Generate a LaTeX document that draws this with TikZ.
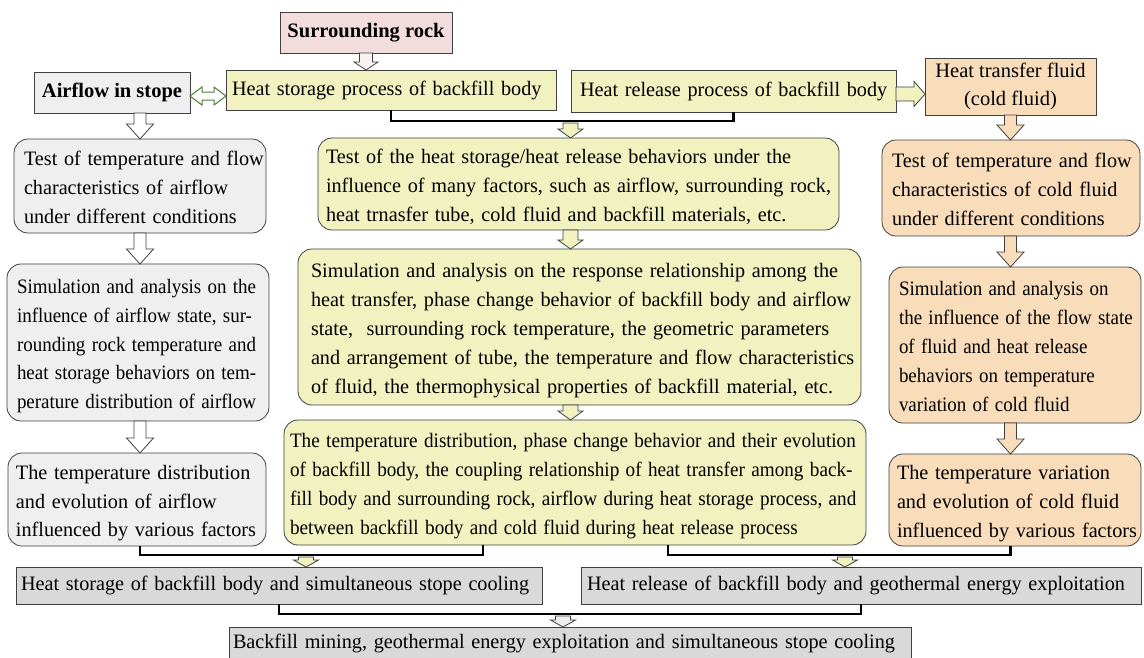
\documentclass[tikz,border=0pt]{standalone}
\usepackage{fontspec}
\setmainfont{Liberation Serif}
\usepackage{graphicx}
\usetikzlibrary{calc}
\definecolor{grayfill}{HTML}{EFEFEF}
\definecolor{yelfill}{HTML}{F2F2C1}
\definecolor{orafill}{HTML}{F9DDBB}
\definecolor{pinkfill}{HTML}{F2DDDC}
\definecolor{botfill}{HTML}{D9D9D9}
\definecolor{edge}{HTML}{404040}
\definecolor{arrgreen}{HTML}{4F7F3A}
\newcommand\hs{0.985}
\newcommand\myl[1]{\scalebox{\hs}[1]{#1}}
% vertical block arrow: style, start, end, shaft half, head half, head length
\newcommand\vblock[6]{%
  \draw[#1] let \p1=(#2), \p2=(#3) in
    (\x1-#4pt,\y1) -- (\x1+#4pt,\y1) -- (\x1+#4pt,\y2+#6pt) -- (\x1+#5pt,\y2+#6pt)
    -- (\x1,\y2) -- (\x1-#5pt,\y2+#6pt) -- (\x1-#4pt,\y2+#6pt) -- cycle;}
\begin{document}
\begin{tikzpicture}[x=1pt,y=-1pt,
  base/.style={draw=edge, line width=0.8pt, anchor=north west, outer sep=0pt,
    inner ysep=0pt, font=\fontsize{20.5}{28.8}\selectfont},
  rbox/.style={base, rounded corners=14pt, align=left,
    execute at begin node={\rule{0pt}{23pt}},
    execute at end node={\rule[-6pt]{0pt}{6pt}}},
  sbox/.style={base, align=left},
  bbox/.style={sbox, fill=botfill, execute at begin node={\rule[-5pt]{0pt}{19pt}}},
  cbox/.style={base, align=center, inner xsep=0pt},
  bracket/.style={draw=black, line width=2.8pt},
  garrow/.style={draw=edge, line width=0.8pt, fill=white},
  yarrow/.style={draw=edge, line width=0.8pt, fill=yelfill},
  oarrow/.style={draw=edge, line width=0.8pt, fill=orafill},
  parrow/.style={draw=edge, line width=0.8pt, fill=pinkfill!40},
  warrow/.style={draw=edge, line width=0.8pt, fill=grayfill},
  dblarrow/.style={draw=arrgreen, line width=1pt, fill=white}
]
\fill[white] (0,0) rectangle (1144,657);
\useasboundingbox (0,0) rectangle (1144,657);

% top row
\node[cbox, fill=pinkfill, minimum width=172pt, minimum height=41pt] (SR) at (280,12) {\bfseries Surrounding rock};
\node[cbox, fill=grayfill, minimum width=156pt, minimum height=41pt] (AF) at (34,72) {\bfseries Airflow in stope};
\node[sbox, fill=yelfill, minimum width=330pt, minimum height=40pt, text width=318pt, inner xsep=6pt] (HS) at (226,70) {\myl{Heat storage process of backfill body}};
\node[sbox, fill=yelfill, minimum width=325pt, minimum height=42pt, text width=307pt, inner xsep=9pt] (HR) at (571,70) {\myl{Heat release process of backfill body}};
\node[cbox, fill=orafill, minimum width=171pt, minimum height=57pt] (HTF) at (925,58) {Heat transfer fluid\\(cold fluid)};

% left column
\node[rbox, fill=grayfill, minimum width=252pt, minimum height=94pt, text width=232pt, inner xsep=10pt] (L1) at (14,139)
 {\myl{Test of temperature and flow}\\\myl{characteristics of airflow}\\\myl{under different conditions}};
\node[rbox, fill=grayfill, minimum width=262pt, minimum height=157pt, text width=242pt, inner xsep=10pt] (L2) at (7,264)
 {\def\hs{0.925}\myl{Simulation and analysis on the}\\\myl{influence of airflow state, sur-}\\\myl{rounding rock temperature and}\\\myl{heat storage behaviors on tem-}\\\myl{perature distribution of airflow}};
\node[rbox, fill=grayfill, minimum width=258pt, minimum height=93pt, text width=242pt, inner xsep=8pt] (L3) at (8,453)
 {\myl{The temperature distribution}\\\myl{and evolution of airflow}\\\myl{influenced by various factors}};

% middle column
\node[rbox, fill=yelfill, minimum width=521pt, minimum height=92pt, text width=505pt, inner xsep=8pt] (M1) at (318,138)
 {\myl{Test of the heat storage/heat release behaviors under the}\\\myl{influence of many factors, such as airflow, surrounding rock,}\\\myl{heat trnasfer tube, cold fluid and backfill materials, etc.}};
\node[rbox, fill=yelfill, minimum width=563pt, minimum height=156pt, text width=537pt, inner xsep=13pt] (M2) at (298,249)
 {\myl{Simulation and analysis on the response relationship among the}\\\myl{heat transfer, phase change behavior of backfill body and airflow}\\\myl{state,\ \ surrounding rock temperature, the geometric parameters}\\\myl{and arrangement of tube, the temperature and flow characteristics}\\\myl{of fluid, the thermophysical properties of backfill material, etc.}};
\node[rbox, fill=yelfill, minimum width=582pt, minimum height=125pt, text width=570pt, inner xsep=6pt] (M3) at (284,420)
 {\def\hs{0.935}\myl{The temperature distribution, phase change behavior and their evolution}\\\myl{of backfill body, the coupling relationship of heat transfer among back-}\\\myl{fill body and surrounding rock, airflow during heat storage process, and}\\\myl{between backfill body and cold fluid during heat release process}};

% right column
\node[rbox, fill=orafill, minimum width=258pt, minimum height=96pt, text width=238pt, inner xsep=10pt] (R1) at (882,140)
 {\myl{Test of temperature and flow}\\\myl{characteristics of cold fluid}\\\myl{under different conditions}};
\node[rbox, fill=orafill, minimum width=252pt, minimum height=156pt, text width=232pt, inner xsep=10pt] (R2) at (889,267)
 {\def\hs{0.925}\myl{Simulation and analysis on}\\\myl{the influence of the flow state}\\\myl{of fluid and heat release}\\\myl{behaviors on temperature}\\\myl{variation of cold fluid}};
\node[rbox, fill=orafill, minimum width=252pt, minimum height=92pt, text width=236pt, inner xsep=8pt] (R3) at (889,454)
 {\myl{The temperature variation}\\\myl{and evolution of cold fluid}\\\myl{influenced by various factors}};

% bottom
\node[bbox, minimum width=526pt, minimum height=37pt, text width=516pt, inner xsep=5pt] (B1) at (16,567)
 {\myl{Heat storage of backfill body and simultaneous stope cooling}};
\node[bbox, minimum width=560pt, minimum height=37pt, text width=548pt, inner xsep=6pt] (B2) at (581,567)
 {\myl{Heat release of backfill body and geothermal energy exploitation}};
\node[bbox, minimum width=682pt, minimum height=34pt, text width=674pt, inner xsep=4pt] (B3) at (229,627)
 {\myl{Backfill mining, geothermal energy exploitation and simultaneous stope cooling}};

% top arrows
\vblock{parrow}{SR.south}{SR.south |- HS.north}{6.5}{12}{8}
\draw[dblarrow] let \p1=([yshift=-3.5pt]AF.east), \p2=(HS.west) in
  (\x1,\y1) -- (\x1+12pt,\y1+9pt) -- (\x1+12pt,\y1+4pt) -- (\x2-12pt,\y1+4pt) -- (\x2-12pt,\y1+9pt)
  -- (\x2,\y1) -- (\x2-12pt,\y1-9pt) -- (\x2-12pt,\y1-4pt) -- (\x1+12pt,\y1-4pt) -- (\x1+12pt,\y1-9pt) -- cycle;
\draw[yarrow] let \p1=([yshift=-3pt]HR.east), \p2=(HTF.west) in
  (\x1,\y1+7pt) -- (\x2-11pt,\y1+7pt) -- (\x2-11pt,\y1+12.5pt) -- (\x2,\y1)
  -- (\x2-11pt,\y1-12.5pt) -- (\x2-11pt,\y1-7pt) -- (\x1,\y1-7pt) -- cycle;

% left column arrows
\vblock{garrow}{L1.north |- AF.south}{L1.north}{6}{13.5}{15}
\vblock{garrow}{L1.south}{L1.south |- L2.north}{6}{13.5}{15}
\vblock{garrow}{L1.south |- L2.south}{L1.south |- L3.north}{6}{13.5}{15}

% right column arrows
\vblock{oarrow}{HTF.south}{HTF.south |- R1.north}{6}{13.5}{15}
\vblock{oarrow}{HTF.south |- R1.south}{HTF.south |- R2.north}{6}{13.5}{15}
\vblock{oarrow}{HTF.south |- R2.south}{HTF.south |- R3.north}{6}{13.5}{15}

% middle bracket and arrows
\draw[bracket] (HS.south) -- ++(0,11) -| (HR.south);
\coordinate (ma) at (570.5,123);
\vblock{yarrow}{ma}{ma |- M1.north}{7.5}{12.5}{9}
\vblock{yarrow}{ma |- M1.south}{ma |- M2.north}{7.5}{12.5}{9}
\vblock{yarrow}{ma |- M2.south}{ma |- M3.north}{7.5}{12.5}{9}

% bottom brackets and arrows
\draw[bracket] (L1.south |- L3.south) -- ++(0,9) -| ([xshift=-92pt]M3.south);
\draw[bracket] ([xshift=93pt]M3.south) -- ++(0,10) -| (HTF.south |- R3.south);
\coordinate (ba1) at (306,557);
\vblock{yarrow}{ba1}{ba1 |- B1.north}{7.5}{12.5}{7}
\coordinate (ba2) at (845,557);
\vblock{yarrow}{ba2}{ba2 |- B2.north}{7.5}{12.5}{7}
\draw[bracket] (B1.south) -- ++(0,10) -| (B2.south);
\coordinate (ba3) at (563,616);
\vblock{warrow}{ba3}{ba3 |- B3.north}{7.5}{12.5}{7}
\end{tikzpicture}
\end{document}
